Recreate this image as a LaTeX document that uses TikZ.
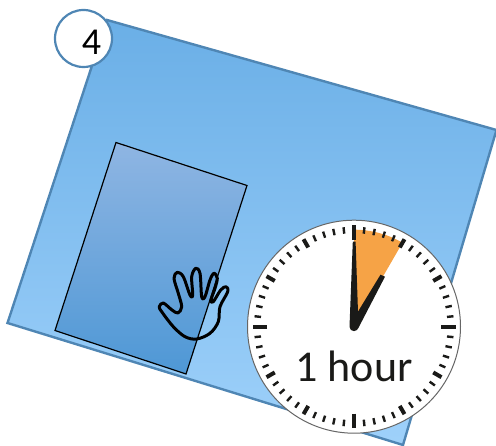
\documentclass[tikz,border=0pt]{standalone}
\usepackage{fontspec}
\setmainfont{Carlito}
\usetikzlibrary{calc}
\definecolor{edgeblue}{HTML}{4F86B4}
\definecolor{topblue}{HTML}{69AEE6}
\definecolor{botblue}{HTML}{A0D2FB}
\definecolor{intop}{HTML}{90B6E3}
\definecolor{inbot}{HTML}{4D97D5}
\definecolor{wedge}{HTML}{F6A346}
\definecolor{inkblack}{HTML}{1A1A18}
\tikzset{
  sheetfill/.style={rotate=-16,minimum width=470pt,minimum height=330pt,inner sep=0pt,top color=topblue,bottom color=botblue},
  panelfill/.style={rotate=-18,minimum width=160pt,minimum height=200pt,inner sep=0pt,top color=intop,bottom color=inbot},
  badge/.style={circle,draw=edgeblue,line width=2.2pt,fill=white,minimum size=57pt,inner sep=0pt},
  minortick/.style={draw=inkblack,line width=2.4pt},
  hourtick/.style={draw=inkblack,line width=4pt},
  quartertick/.style={draw=inkblack,line width=4pt},
}
\begin{document}
\begin{tikzpicture}[x=1pt,y=-1pt]
\useasboundingbox (0,0) rectangle (496,446);
\begin{scope}
\clip (0,0) rectangle (496,446);
\begin{scope}
\clip (107,20) -- (496.5,130) -- (403,445) -- (7.5,323) -- cycle;
\node[sheetfill] (sheetbg) at (251,232) {};
\end{scope}
\draw[edgeblue,line width=2.4pt] (107,20) -- (496.5,130) -- (403,445) -- (7.5,323) -- cycle;
\begin{scope}
\clip (116,142.5) -- (247,185.5) -- (186,374) -- (55,330.5) -- cycle;
\node[panelfill] (panelbg) at (151,258) {};
\end{scope}
\draw[black,line width=1.2pt] (116,142.5) -- (247,185.5) -- (186,374) -- (55,330.5) -- cycle;
\end{scope}
% hand
\draw[black,line width=3pt,line join=round] plot[smooth cycle,tension=0.55] coordinates {
(159.3,306.7) (163.3,303) (172,310) (178,313) (181.7,306.7) (178.3,293.3) (174,278.3) (177.3,272.3) (183.3,276.7) (190,295) (192.7,295) (191.7,276.7) (195.7,268.3) (200,273.3) (201.7,296.7) (205,296.7) (210,280) (214,273.3) (217.3,278.3) (215,288.3) (211,300) (213.3,301.7) (220.7,290) (226,286.7) (227.7,291.7) (220,306.7) (218.3,321.7) (210,333.3) (196.7,339) (185,336.7) (173.3,326.7) (161.7,311.7)};
% clock
\coordinate (c) at (354,326.7);
\node[circle,draw=black!60,line width=1pt,fill=white,minimum size=213pt,inner sep=0pt] (face) at (c) {};
\fill[wedge] (c) -- ($(c)+(0,-97)$) arc[start angle=-90,end angle=-60,radius=97] -- cycle;
\foreach \a in {0,6,...,354}{
  \pgfmathtruncatemacro{\m}{mod(\a,30)}
  \pgfmathtruncatemacro{\q}{mod(\a,90)}
  \ifnum\q=0
    \draw[quartertick] ($(c)+({sin(\a)*87},{-cos(\a)*87})$) -- ($(c)+({sin(\a)*101.5},{-cos(\a)*101.5})$);
  \else\ifnum\m=0
    \draw[hourtick] ($(c)+({sin(\a)*91.5},{-cos(\a)*91.5})$) -- ($(c)+({sin(\a)*101},{-cos(\a)*101})$);
  \else
    \draw[minortick] ($(c)+({sin(\a)*93.5},{-cos(\a)*93.5})$) -- ($(c)+({sin(\a)*100},{-cos(\a)*100})$);
  \fi\fi
}
\fill[inkblack] ($(c)+(-4.5,0)$) -- ($(c)+(-1.2,-85)$) -- ($(c)+(1.6,-85)$) -- ($(c)+(4.5,0)$) arc[start angle=0,end angle=180,radius=4.5,y radius=4.5] -- cycle;
\fill[inkblack] ($(c)+(-4,-2)$) -- ($(c)+(26.5,-52)$) -- ($(c)+(31,-50)$) -- ($(c)+(4,2)$) -- cycle;
\node[font=\fontsize{44}{52}\selectfont,text=inkblack,inner sep=0pt] (lbl) at (354,366) {1 hour};
% badge
\node[badge] (b) at (83.5,38.5) {};
\node[font=\fontsize{38}{44}\selectfont,text=black,inner sep=0pt] (n) at (91.5,42) {4};
\end{tikzpicture}
\end{document}
